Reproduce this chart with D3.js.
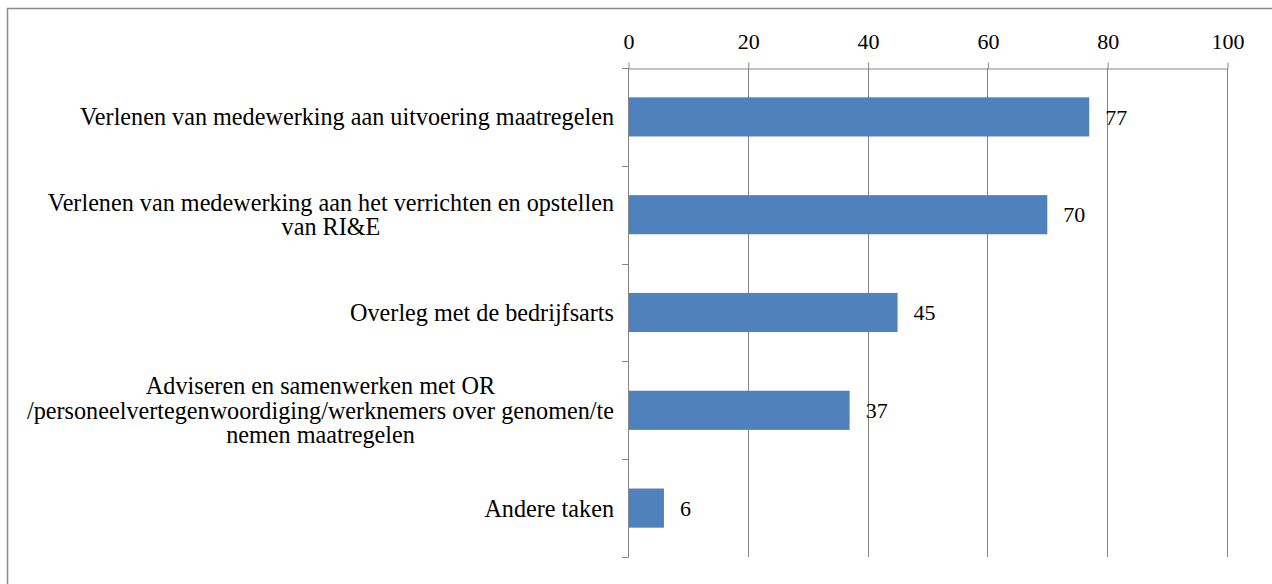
<!DOCTYPE html>
<html>
<head>
<meta charset="utf-8">
<script src="https://cdn.jsdelivr.net/npm/d3@7"></script>
<style>
  body { margin: 0; background: #fff; }
  svg text { font-family: "Liberation Serif", "Times New Roman", serif; fill: #000; }
</style>
</head>
<body>
<div id="container"></div>
<script>
// Data
const categories = [
  'Verlenen van medewerking aan uitvoering maatregelen',
  'Verlenen van medewerking aan het verrichten en opstellen\nvan RI&E',
  'Overleg met de bedrijfsarts',
  'Adviseren en samenwerken met OR\n/personeelvertegenwoordiging/werknemers over genomen/te\nnemen maatregelen',
  'Andere taken'
];
const values = [77, 70, 45, 37, 6];
const xTicks = [0, 20, 40, 60, 80, 100];

const width = 1272;
const height = 584;
const plot = { left: 628, right: 1227, top: 68, bottom: 557 };
const gridColor = '#868686';

const svg = d3.select('#container')
  .append('svg')
  .attr('width', width)
  .attr('height', height);

// Outer frame (runs off the right and bottom edges)
svg.append('rect')
  .attr('x', 7.5)
  .attr('y', 8.5)
  .attr('width', width + 20)
  .attr('height', height + 20)
  .attr('fill', '#fff')
  .attr('stroke', '#8c8c8c')
  .attr('stroke-width', 1.5);

// Scales
const x = d3.scaleLinear()
  .domain([0, 100])
  .range([plot.left, plot.right]);

const y = d3.scaleBand()
  .domain(categories)
  .range([plot.top, plot.bottom])
  .paddingInner(0.6)
  .paddingOuter(0.3);

// Vertical gridlines
svg.append('g')
  .selectAll('line')
  .data(xTicks.filter(d => d > 0))
  .enter()
  .append('line')
  .attr('x1', d => Math.round(x(d)) + 0.5)
  .attr('x2', d => Math.round(x(d)) + 0.5)
  .attr('y1', plot.top)
  .attr('y2', plot.bottom)
  .attr('stroke', gridColor);

// Top axis
const xAxis = d3.axisTop(x)
  .tickValues(xTicks)
  .tickSize(6)
  .tickSizeOuter(0)
  .tickPadding(14)
  .tickFormat(d3.format('d'));

const gx = svg.append('g')
  .attr('transform', `translate(0.5, ${plot.top + 0.5})`)
  .call(xAxis);
gx.select('.domain').attr('stroke', gridColor);
gx.selectAll('.tick line').attr('stroke', gridColor);
gx.selectAll('.tick text')
  .style('font-family', '"Liberation Serif", serif')
  .attr('font-size', 22);

// Left axis: line with ticks on category boundaries
const step = y.step();
const gy = svg.append('g');
gy.append('line')
  .attr('x1', plot.left + 0.5)
  .attr('x2', plot.left + 0.5)
  .attr('y1', plot.top)
  .attr('y2', plot.bottom + 0.5)
  .attr('stroke', gridColor);
gy.selectAll('.btick')
  .data(d3.range(categories.length + 1))
  .enter()
  .append('line')
  .attr('class', 'btick')
  .attr('x1', plot.left - 6)
  .attr('x2', plot.left + 0.5)
  .attr('y1', i => Math.round(plot.top + i * step) + 0.5)
  .attr('y2', i => Math.round(plot.top + i * step) + 0.5)
  .attr('stroke', gridColor);

// Bars
svg.selectAll('.bar')
  .data(values)
  .enter()
  .append('rect')
  .attr('class', 'bar')
  .attr('x', x(0) + 1)
  .attr('y', (d, i) => y(categories[i]))
  .attr('width', d => x(d) - x(0) - 1)
  .attr('height', y.bandwidth())
  .attr('fill', '#4f81bd');

// Value labels
svg.selectAll('.value')
  .data(values)
  .enter()
  .append('text')
  .attr('class', 'value')
  .attr('x', d => x(d) + 16)
  .attr('y', (d, i) => y(categories[i]) + y.bandwidth() / 2)
  .attr('dy', '0.35em')
  .attr('font-size', 22)
  .text(d => d);

// Category labels: centred blocks, right edge at fixed x
const labelRight = 614;
const lineHeight = 24.5;
categories.forEach(cat => {
  const lines = cat.split('\n');
  const g = svg.append('g');
  const cy = y(cat) + y.bandwidth() / 2;
  const texts = lines.map((line, j) => g.append('text')
    .attr('font-size', 24.2)
    .attr('text-anchor', 'middle')
    .attr('y', cy + (j - (lines.length - 1) / 2) * lineHeight)
    .attr('dy', '0.35em')
    .text(line));
  const maxW = d3.max(texts, t => t.node().getComputedTextLength());
  texts.forEach(t => t.attr('x', labelRight - maxW / 2));
});
</script>
</body>
</html>
